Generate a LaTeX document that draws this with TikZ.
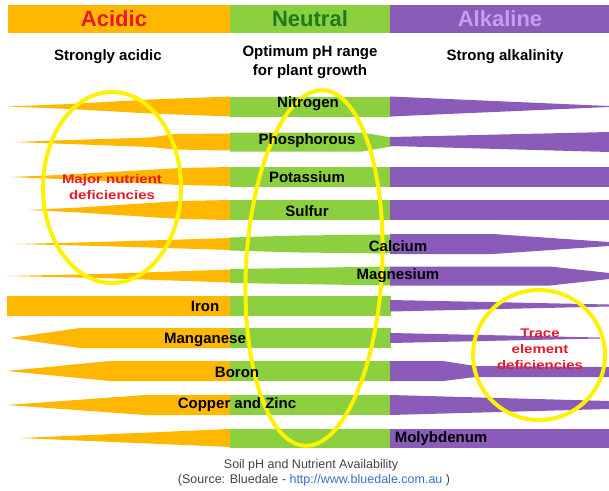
\documentclass[tikz,border=0pt]{standalone}
\usepackage{fontspec}
\setmainfont{Liberation Sans}
\definecolor{acid}{HTML}{FFB700}
\definecolor{neut}{HTML}{8CCF3F}
\definecolor{alk}{HTML}{8A5BB8}
\definecolor{ringc}{HTML}{FFF200}
\definecolor{redtxt}{HTML}{E8192C}
\definecolor{neuttxt}{HTML}{1F7A1F}
\definecolor{alktxt}{HTML}{C99CF2}
\definecolor{captxt}{HTML}{444444}
\definecolor{urlc}{HTML}{3A6FD0}
\begin{document}
\begin{tikzpicture}[x=1pt,y=-1pt,
  head/.style={font=\bfseries\fontsize{22}{22}\selectfont, inner sep=0pt},
  sub/.style={font=\bfseries\fontsize{15}{18.5}\selectfont, inner sep=0pt, align=center},
  lbl/.style={font=\bfseries\fontsize{15}{15}\selectfont, inner sep=0pt},
  redlbl/.style={font=\bfseries\fontsize{12.5}{16}\selectfont, text=redtxt, inner sep=0pt, align=center, xscale=1.2},
  ringline/.style={draw=ringc, line width=4pt},
  captext/.style={font=\fontsize{12.5}{14}\selectfont, text=captxt, inner sep=0pt}]
\useasboundingbox (0,0) rectangle (609,490);
\fill[white] (0,0) rectangle (609,490);
% header bar
\fill[acid] (8,5) rectangle (231,33);
\fill[neut] (230,5) rectangle (391,33);
\fill[alk] (390,5) rectangle (609,33);
\node[head, text=redtxt] (hA) at (114,19) {Acidic};
\node[head, text=neuttxt] (hN) at (310,19) {Neutral};
\node[head, text=alktxt] (hK) at (500,19) {Alkaline};
\node[sub] (sA) at (108,57) {Strongly acidic};
\node[sub] (sN) at (310,62) {Optimum pH range\\for plant growth};
\node[sub] (sK) at (505,57) {Strong alkalinity};
% row 1 Nitrogen
\begin{scope}[shift={(0,106.5)}]
\fill[acid] (7,0) -- (70,-2.5) -- (150,-7) -- (231,-10) -- (231,10) -- (150,7) -- (70,2.5) -- cycle;
\fill[neut] (230,-10) rectangle (391,10);
\fill[alk] (390,-10) -- (609,-0.5) -- (609,0.5) -- (390,10) -- cycle;
\end{scope}
% row 2 Phosphorous
\begin{scope}[shift={(0,142)}]
\fill[acid] (15,0) -- (70,-2) -- (150,-4.5) -- (175,-8) -- (231,-8.5) -- (231,8.5) -- (175,7.5) -- (150,5) -- (70,2) -- cycle;
\fill[neut] (230,-9.5) -- (362,-9.5) -- (391,-4.5) -- (391,4.5) -- (362,9.5) -- (230,9.5) -- cycle;
\fill[alk] (390,-5) -- (609,-10) -- (609,10) -- (390,4) -- cycle;
\end{scope}
% row 3 Potassium
\begin{scope}[shift={(0,177)}]
\fill[acid] (10,0) -- (60,-2) -- (180,-9) -- (231,-10) -- (231,9) -- (180,8) -- (60,2) -- cycle;
\fill[neut] (230,-10) rectangle (391,10);
\fill[alk] (390,-10) rectangle (609,10);
\end{scope}
% row 4 Sulfur
\begin{scope}[shift={(0,210)}]
\fill[acid] (28,0) -- (80,-2.5) -- (180,-9) -- (231,-10) -- (231,10) -- (180,9) -- (80,2.5) -- cycle;
\fill[neut] (230,-10) rectangle (391,10);
\fill[alk] (390,-10) rectangle (609,10);
\end{scope}
% row 5 Calcium
\begin{scope}[shift={(0,244)}]
\fill[acid] (15,0) -- (100,-2) -- (231,-6) -- (231,6) -- (100,2) -- cycle;
\fill[neut] (230,-6.5) -- (300,-8.5) -- (391,-9.5) -- (391,9.5) -- (300,8.5) -- (230,6.5) -- cycle;
\fill[alk] (390,-10) -- (493,-10) -- (609,-2) -- (609,2) -- (493,10) -- (390,10) -- cycle;
\end{scope}
% row 6 Magnesium
\begin{scope}[shift={(0,276)}]
\fill[acid] (7,0) -- (100,-2) -- (231,-6.5) -- (231,6.5) -- (100,2) -- cycle;
\fill[neut] (230,-7) -- (391,-9.5) -- (391,9.5) -- (230,7) -- cycle;
\fill[alk] (390,-9.5) -- (550,-9.5) -- (609,-3) -- (609,3) -- (550,9.5) -- (390,9.5) -- cycle;
\end{scope}
% row 7 Iron
\begin{scope}[shift={(0,305.5)}]
\fill[acid] (7,-10) rectangle (231,10);
\fill[neut] (230,-10) rectangle (391,10);
\fill[alk] (390,-5.5) -- (609,-1) -- (609,1) -- (390,6) -- cycle;
\end{scope}
% row 8 Manganese
\begin{scope}[shift={(0,338)}]
\fill[acid] (10,0) -- (80,-10) -- (231,-10) -- (231,10) -- (80,10) -- cycle;
\fill[neut] (230,-10) rectangle (391,10);
\fill[alk] (390,-5) -- (600,-0.5) -- (600,0.5) -- (390,5) -- cycle;
\end{scope}
% row 9 Boron
\begin{scope}[shift={(0,371)}]
\fill[acid] (7,0) -- (110,-10) -- (231,-10) -- (231,10) -- (110,10) -- cycle;
\fill[neut] (230,-10) rectangle (391,10);
\fill[alk] (390,-10) -- (443,-10) -- (475,-5) -- (609,-4) -- (609,6) -- (475,6) -- (443,10) -- (390,10) -- cycle;
\end{scope}
% row 10 Copper and Zinc
\begin{scope}[shift={(0,405)}]
\fill[acid] (7,0) -- (145,-10) -- (231,-10) -- (231,10) -- (145,10) -- cycle;
\fill[neut] (230,-10) rectangle (391,10);
\fill[alk] (390,-10) -- (609,-4) -- (609,4) -- (390,10) -- cycle;
\end{scope}
% row 11 Molybdenum
\begin{scope}[shift={(0,438)}]
\fill[acid] (20,0) -- (231,-9) -- (231,9) -- cycle;
\fill[neut] (230,-9.5) rectangle (391,9.5);
\fill[alk] (390,-9.5) rectangle (609,9.5);
\end{scope}
% rings
\draw[ringline] (112,187.5) ellipse [x radius=69pt, y radius=95.5pt];
\draw[ringline, rotate around={-3:(314,268)}] (314,268) ellipse [x radius=68pt, y radius=178pt];
\draw[ringline] (539,355) ellipse [x radius=66pt, y radius=65pt];
% nutrient labels
\node[lbl] (nN) at (308,104) {Nitrogen};
\node[lbl] (nP) at (307,141) {Phosphorous};
\node[lbl] (nK) at (307,177) {Potassium};
\node[lbl] (nS) at (307,211) {Sulfur};
\node[lbl] (nCa) at (398,246) {Calcium};
\node[lbl] (nMg) at (398,276) {Magnesium};
\node[lbl] (nFe) at (205,306) {Iron};
\node[lbl] (nMn) at (205,340) {Manganese};
\node[lbl] (nB) at (237,372) {Boron};
\node[lbl] (nCu) at (237,405) {Copper and Zinc};
\node[lbl] (nMo) at (441,439) {Molybdenum};
% red labels
\node[redlbl] (maj) at (112,187) {Major nutrient\\deficiencies};
\node[redlbl] (tr) at (540,349) {Trace\\element\\deficiencies};
% caption
\node[captext] (c1) at (311,465) {Soil pH and Nutrient Availability};
\node[captext] (c2) at (314,480) {(Source: Bluedale - \textcolor{urlc}{http://www.bluedale.com.au} )};
\end{tikzpicture}
\end{document}
